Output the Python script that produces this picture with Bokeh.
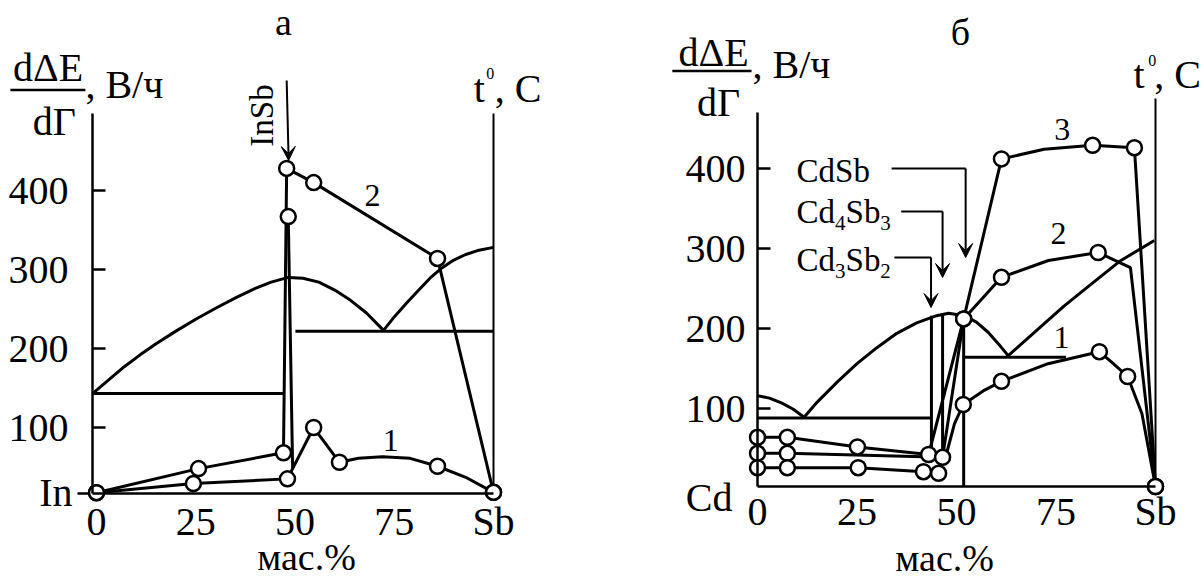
import math
from bokeh.plotting import figure
from bokeh.layouts import row
from bokeh.models import FixedTicker, Arrow, VeeHead
from bokeh.core.properties import value
from bokeh.embed import file_html
from bokeh.resources import INLINE

FONT = "Liberation Serif"
LW = 3

# ---------------- panel а : In - Sb ----------------
a_x_ticks = [0, 25, 50, 75, 100]
a_x_over = {100: "Sb"}
a_y_ticks = [100, 200, 300, 400]

# curve 1 (with spike at InSb)
a1_x = [0, 24.4, 48.1, 49.4, 48.3, 49.4, 54.7, 61.2, 66, 72, 79, 85.9, 93, 100]
a1_y = [17.5, 29, 35, 48, 367, 48, 100, 56, 61, 63, 61, 51, 37, 18]
a1_mx = [0, 24.4, 48.1, 48.3, 54.7, 61.2, 85.9, 100]
a1_my = [17.5, 29, 35, 367, 100, 56, 51, 18]
# curve 2
a2_x = [0, 25.7, 47.1, 47.9, 54.7, 85.9, 100]
a2_y = [17.5, 48, 68, 428, 410, 314, 18]
# liquidus (t, arbitrary scale)
aL_x = [-1, 3, 7, 11, 15, 20, 25, 30, 35, 40, 44, 48.3, 52, 56, 60, 64, 68, 72.3,
        75, 78, 81, 84, 87, 90, 93, 96, 100]
aL_y = [143, 160, 177, 192, 206, 222, 237, 251, 264, 276, 284, 290, 289, 284, 274, 261, 245, 223,
        240, 257, 273, 289, 302, 312, 319, 324, 328]
# eutectic horizontals
aE_x0 = [-1, 50.1]
aE_x1 = [47.4, 100]
aE_y = [143, 222]

# ---------------- panel б : Cd - Sb ----------------
b_x_ticks = [0, 25, 50, 75, 100]
b_x_over = {100: "Sb"}
b_y_ticks = [100, 200, 300, 400]

b1_x = [0, 7.5, 25.3, 41.7, 45.5, 46.5, 47.7, 49.5, 51.7, 56.7, 61.3, 73, 85.9, 89.4, 93, 96.6, 100]
b1_y = [26, 26, 26, 21, 19, 39, 47.5, 81, 105, 122, 134, 156, 171, 156, 140, 93.5, 2.5]
b1_mx = [0, 7.5, 25.3, 41.7, 45.5, 51.7, 61.3, 85.9, 93, 100]
b1_my = [26, 26, 26, 21, 19, 105, 134, 171, 140, 2.5]

b2_x = [0, 7.5, 46.5, 51.8, 61.3, 73.1, 85.6, 93.7, 100]
b2_y = [44, 44, 39, 212, 264, 285, 295, 276, 2.5]
b2_mx = [0, 7.5, 46.5, 51.8, 61.3, 85.6, 100]
b2_my = [44, 44, 39, 212, 264, 295, 2.5]

b3_x = [0, 7.5, 25.1, 43, 51.8, 61.3, 72, 84.2, 94.7, 100]
b3_y = [64, 64, 52, 42.5, 212, 412, 424, 429, 426, 2.5]
b3_mx = [0, 7.5, 25.1, 43, 51.8, 61.3, 84.2, 94.7, 100]
b3_my = [64, 64, 52, 42.5, 212, 412, 429, 426, 2.5]

bL_x = [0, 3, 6, 9, 11.7, 15, 20, 25, 30, 35, 40, 45, 48, 52, 55, 58, 61, 63,
        70, 77, 84, 91, 99.7]
bL_y = [116, 113, 107, 99, 89, 108, 133, 156, 176, 194, 207, 216, 219, 216, 208, 195, 178, 166,
        197, 228, 256, 284, 310]
bE_x0 = [0, 51.8]
bE_x1 = [43.7, 77.5]
bE_y = [88, 164]
bV_x = [43.7, 46.5, 51.8]
bV_y0 = [44, 41, 2.5]
bV_y1 = [216, 219, 213]


def make_fig(width, xr, yr):
    p = figure(width=width, height=578, x_range=xr, y_range=yr,
               output_backend="svg", toolbar_location=None, min_border=0)
    p.outline_line_color = None
    p.grid.visible = False
    p.background_fill_color = "white"
    p.border_fill_color = "white"
    return p


def style_axes(p, xloc, yloc, xb, yb, xt, yt, xover, ystand, xstand):
    ya = p.yaxis[0]
    ya.fixed_location = xloc
    ya.bounds = yb
    ya.ticker = FixedTicker(ticks=yt)
    ya.major_tick_in = 13
    ya.major_tick_out = 0
    ya.minor_tick_in = 0
    ya.minor_tick_out = 0
    ya.axis_line_width = 2.5
    ya.major_tick_line_width = 2.5
    ya.major_label_text_font = FONT
    ya.major_label_text_font_size = "40px"
    ya.major_label_text_color = "black"
    ya.major_label_standoff = ystand
    xa = p.xaxis[0]
    xa.fixed_location = yloc
    xa.bounds = xb
    xa.ticker = FixedTicker(ticks=xt)
    xa.major_label_overrides = xover
    xa.major_tick_in = 0
    xa.major_tick_out = 0
    xa.minor_tick_in = 0
    xa.minor_tick_out = 0
    xa.axis_line_width = 2.5
    xa.major_label_text_font = FONT
    xa.major_label_text_font_size = "40px"
    xa.major_label_text_color = "black"
    xa.major_label_standoff = xstand


def txt(p, x, y, s, size, align="left", angle=0, dx=0):
    p.text(x=[x], y=[y], text=[s], text_font=value(FONT), text_font_size=f"{size}px",
           text_align=align, text_baseline="middle", angle=angle, x_offset=dx,
           text_color="black")


def markers(p, xs, ys):
    p.scatter(xs, ys, size=15, marker="circle", fill_color="white",
              line_color="black", line_width=2.5)


# ---------- build panel а ----------
pa = make_fig(600, (-24.18, 126.95), (-91.1, 640.5))
style_axes(pa, -1, 16.5, (-1, 100), (16.5, 497.5), a_x_ticks, a_y_ticks, a_x_over, 24, 6)
pa.segment(x0=[100], y0=[16.5], x1=[100], y1=[497.5], line_color="black", line_width=2)
pa.segment(x0=[-4.8], y0=[16.5], x1=[-1], y1=[16.5], line_color="black", line_width=2.5)
pa.line(aL_x, aL_y, line_color="black", line_width=LW)
pa.segment(x0=aE_x0, y0=aE_y, x1=aE_x1, y1=aE_y, line_color="black", line_width=LW)
pa.line(a2_x, a2_y, line_color="black", line_width=LW)
pa.line(a1_x, a1_y, line_color="black", line_width=LW)
markers(pa, a2_x, a2_y)
markers(pa, a1_mx, a1_my)

txt(pa, 47.1, 613.9, "а", 38, align="center")
txt(pa, -12.2, 555.7, "dΔE", 40, align="center")
pa.segment(x0=[-21.7], y0=[527.2], x1=[-2.8], y1=[527.2], line_color="black", line_width=2.5)
txt(pa, -10.6, 487.3, "dΓ", 40, align="center")
txt(pa, -2.8, 534.2, ", В/ч", 40)
txt(pa, 95, 529.1, "t", 40)
txt(pa, 98.2, 548.1, "0", 16)
txt(pa, 100.3, 529.1, ", C", 40)
txt(pa, 41.8, 494.9, "InSb", 33, align="center", angle=math.pi / 2)
pa.add_layout(Arrow(end=VeeHead(size=14, fill_color="black", line_color="black"),
                    x_start=47.9, y_start=539.2, x_end=48.4, y_end=438,
                    line_width=2, line_color="black"))
txt(pa, 69.5, 393.7, "2", 32, align="center")
txt(pa, 74.1, 83.5, "1", 32, align="center")
txt(pa, 52.9, -63.3, "мас.%", 38, align="center")
txt(pa, -6.05, 17.7, "In", 40, align="right")

# ---------- build panel б ----------
pb = make_fig(603, (-39.45, 112.06), (-112.5, 610))
style_axes(pb, 0, 2.5, (0, 100), (2.5, 470), b_x_ticks, b_y_ticks, b_x_over, 12, 2)
pb.segment(x0=[100], y0=[2.5], x1=[100], y1=[487.5], line_color="black", line_width=2)
pb.line(bL_x, bL_y, line_color="black", line_width=LW)
pb.segment(x0=bE_x0, y0=bE_y, x1=bE_x1, y1=bE_y, line_color="black", line_width=LW)
pb.segment(x0=bV_x, y0=bV_y0, x1=bV_x, y1=bV_y1, line_color="black", line_width=LW)
pb.line(b3_x, b3_y, line_color="black", line_width=LW)
pb.line(b2_x, b2_y, line_color="black", line_width=LW)
pb.line(b1_x, b1_y, line_color="black", line_width=LW)
markers(pb, b3_mx, b3_my)
markers(pb, b2_mx, b2_my)
markers(pb, b1_mx, b1_my)

txt(pb, 51, 571.25, "б", 38, align="center")
txt(pb, -11.06, 545, "dΔE", 40, align="center")
pb.segment(x0=[-21.4], y0=[521.9], x1=[-1.5], y1=[521.9], line_color="black", line_width=2.5)
txt(pb, -9.8, 482.5, "dΓ", 40, align="center")
txt(pb, -1.26, 530.6, ", В/ч", 40)
txt(pb, 94.5, 517.5, "t", 40)
txt(pb, 98.2, 535, "0", 16)
txt(pb, 99.7, 517.5, ", C", 40)
txt(pb, 76.6, 448.75, "3", 32, align="center")
txt(pb, 75.6, 318.75, "2", 32, align="center")
txt(pb, 76.4, 188.75, "1", 32, align="center")
txt(pb, 47, -86.25, "мас.%", 38, align="center")
txt(pb, -6.28, -11.25, "Cd", 40, align="right")

# compound labels with bent arrows
SZ, SUB = 33, 21
wCd = (667 + 500) * SZ / 1000
wSb = (556 + 500) * SZ / 1000
wsub = 500 * SUB / 1000
txt(pb, 9.8, 397.5, "CdSb", SZ)
for (ly, s1, s2) in [(345.6, "4", "3"), (286.25, "3", "2")]:
    txt(pb, 9.8, ly, "Cd", SZ)
    txt(pb, 9.8, ly - 13.75, s1, SUB, dx=wCd)
    txt(pb, 9.8, ly, "Sb", SZ, dx=wCd + wsub)
    txt(pb, 9.8, ly - 13.75, s2, SUB, dx=wCd + wsub + wSb)
for (ax0, ax1, ay0, ay1) in [(33.7, 52.3, 400, 288.75),
                             (36.1, 46.5, 346.25, 263.75),
                             (34.4, 43.6, 288.75, 226.25)]:
    pb.segment(x0=[ax0], y0=[ay0], x1=[ax1], y1=[ay0], line_color="black", line_width=2)
    pb.add_layout(Arrow(end=VeeHead(size=14, fill_color="black", line_color="black"),
                        x_start=ax1, y_start=ay0, x_end=ax1, y_end=ay1,
                        line_width=2, line_color="black"))

layout = row(pa, pb)
open("out.html", "w").write(file_html(layout, INLINE))
